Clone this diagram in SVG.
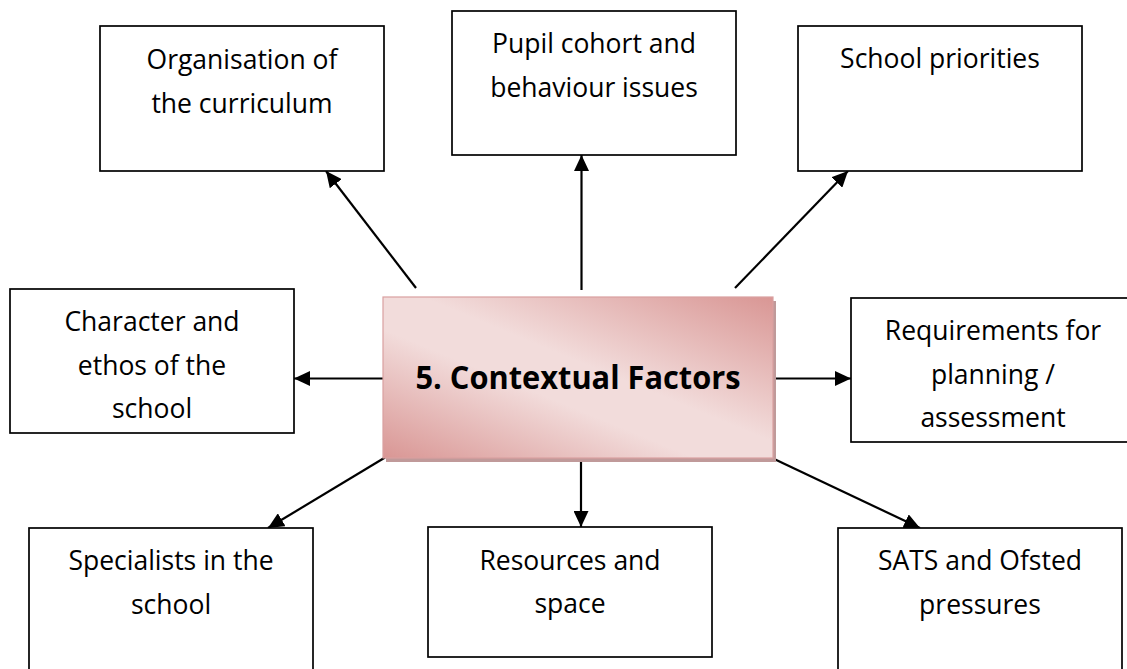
<svg xmlns="http://www.w3.org/2000/svg" width="1127" height="669" viewBox="0 0 1127 669">
  <style>
    .box { fill: #ffffff; stroke: #000000; stroke-width: 1.7; }
    .lbl { font-family: "Open Sans", "Liberation Sans", sans-serif; font-size: 26.5px; fill: #000000; text-anchor: middle; }
    .title { font-family: "Open Sans", "Liberation Sans", sans-serif; font-size: 33px; font-weight: bold; fill: #000000; text-anchor: middle; }
    .conn { stroke: #000000; stroke-width: 2.2; fill: none; marker-end: url(#arrow); }
  </style>
  <defs>
    <marker id="arrow" markerUnits="userSpaceOnUse" markerWidth="16" markerHeight="15" refX="16" refY="7.5" orient="auto">
      <path d="M0,0 L16,7.5 L0,15 z" fill="#000000"/>
    </marker>
    <linearGradient id="pinkGrad" x1="1" y1="0" x2="0" y2="1">
      <stop offset="0" stop-color="#d99694"/>
      <stop offset="0.45" stop-color="#f2dcdb"/>
      <stop offset="0.6" stop-color="#f2dcdb"/>
      <stop offset="1" stop-color="#d99694"/>
    </linearGradient>
  </defs>
  <rect width="1127" height="669" fill="#ffffff"/>

  <g id="connectors">
    <line class="conn" x1="416" y1="288" x2="326" y2="171"/>
    <line class="conn" x1="581.5" y1="290" x2="581.5" y2="155"/>
    <line class="conn" x1="735" y1="288" x2="848" y2="171"/>
    <line class="conn" x1="385" y1="378.5" x2="294" y2="378.5"/>
    <line class="conn" x1="771" y1="378.5" x2="851" y2="378.5"/>
    <line class="conn" x1="385" y1="457.5" x2="268" y2="528"/>
    <line class="conn" x1="581" y1="458" x2="581" y2="527"/>
    <line class="conn" x1="771" y1="457.5" x2="920" y2="528"/>
  </g>

  <g id="center">
    <rect x="386" y="301" width="390" height="161" fill="#c09a9a"/>
    <rect x="383" y="297" width="390" height="161" fill="url(#pinkGrad)" stroke="#d9a0a0" stroke-width="1.2"/>
    <text class="title" x="578" y="388.5" textLength="325" lengthAdjust="spacingAndGlyphs">5. Contextual Factors</text>
  </g>

  <g id="organisation">
    <rect class="box" x="100" y="26" width="284" height="145"/>
    <text class="lbl" x="242" y="69">Organisation of</text>
    <text class="lbl" x="242" y="112.5">the curriculum</text>
  </g>

  <g id="pupil">
    <rect class="box" x="452" y="11" width="284" height="144"/>
    <text class="lbl" x="594" y="53">Pupil cohort and</text>
    <text class="lbl" x="594" y="96.5">behaviour issues</text>
  </g>

  <g id="priorities">
    <rect class="box" x="798" y="26" width="284" height="145"/>
    <text class="lbl" x="940" y="68">School priorities</text>
  </g>

  <g id="character">
    <rect class="box" x="10" y="289" width="284" height="144"/>
    <text class="lbl" x="152" y="331">Character and</text>
    <text class="lbl" x="152" y="374.5">ethos of the</text>
    <text class="lbl" x="152" y="418">school</text>
  </g>

  <g id="requirements">
    <rect class="box" x="851" y="298" width="284" height="144"/>
    <text class="lbl" x="993" y="340">Requirements for</text>
    <text class="lbl" x="993" y="383.5">planning /</text>
    <text class="lbl" x="993" y="427">assessment</text>
  </g>

  <g id="specialists">
    <rect class="box" x="29" y="528" width="284" height="150"/>
    <text class="lbl" x="171" y="570">Specialists in the</text>
    <text class="lbl" x="171" y="613.5">school</text>
  </g>

  <g id="resources">
    <rect class="box" x="428" y="527" width="284" height="130"/>
    <text class="lbl" x="570" y="569.5">Resources and</text>
    <text class="lbl" x="570" y="613">space</text>
  </g>

  <g id="sats">
    <rect class="box" x="838" y="528" width="284" height="150"/>
    <text class="lbl" x="980" y="570">SATS and Ofsted</text>
    <text class="lbl" x="980" y="613.5">pressures</text>
  </g>
</svg>
